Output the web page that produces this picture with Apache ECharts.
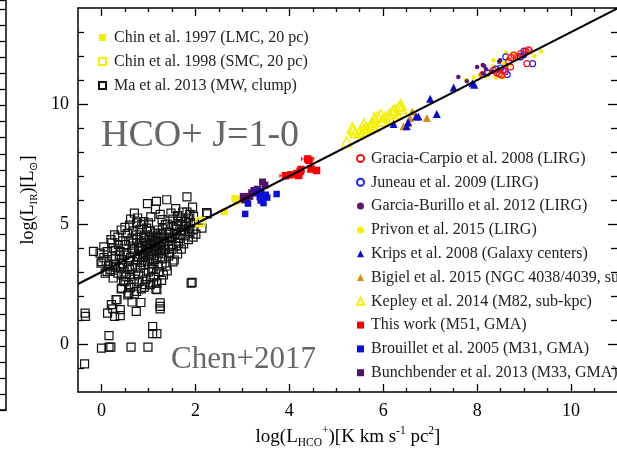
<!DOCTYPE html>
<html><head><meta charset="utf-8">
<script src="https://cdn.jsdelivr.net/npm/echarts@6/dist/echarts.min.js"></script>
<style>html,body{margin:0;padding:0;background:#fff}#c{width:617px;height:450px}</style>
</head><body><div id="c"></div>
<script>
const FONT = '"Liberation Serif", "Times New Roman", serif';
// tick values
const xMajor = [0, 2, 4, 6, 8, 10];
const xMinor = [0.5, 1, 1.5, 2.5, 3, 3.5, 4.5, 5, 5.5, 6.5, 7, 7.5, 8.5, 9, 9.5, 10.5];
const yMajor = [0, 5, 10];
const yMinor = [-1, 1, 2, 3, 4, 6, 7, 8, 9, 11, 12, 13];

// fit line end points
const fitLine = [[-0.5, 2.5], [11, 14]];

// data series [log L_HCO+, log L_IR]
const chin97 = [[2.62, 5.51], [2.84, 6.07], [2.88, 5.95], [2.91, 6.01]];
const chin98 = [[2.12, 5.11], [2.09, 5.05]];
const ma13 = [
 [1.82,6.13],[1.39,6.01],[1.17,5.94],[0.98,5.85],[1.15,5.62],[1.58,5.64],[1.94,5.70],[1.82,5.50],[1.73,5.50],[2.25,5.42],
 [2.24,5.47],[0.77,5.25],[0.50,4.86],[2.14,4.83],[2.01,4.58],[1.29,5.18],[1.64,5.11],[1.85,5.25],[1.96,5.32],[0.86,4.97],
 [0.96,4.83],[1.36,4.97],[1.50,4.90],[1.71,4.97],[1.85,4.83],[1.78,4.55],[1.57,4.55],[1.15,4.62],[0.65,4.41],[0.75,4.55],
 [1.64,4.20],[1.75,4.17],[1.43,4.07],[-0.17,3.86],[-0.03,3.79],[-0.01,3.37],[0.01,3.43],[0.22,4.21],[0.25,4.00],[0.22,3.66],
 [0.25,3.30],[0.08,2.95],[0.12,3.02],[0.18,3.02],[0.40,3.16],[0.43,2.88],[0.47,2.61],[0.58,2.47],[0.43,2.33],[0.58,2.12],
 [0.75,2.19],[0.93,2.47],[1.18,2.54],[1.18,2.26],[1.04,2.75],[1.32,2.88],[1.52,3.42],[1.93,2.57],[1.43,3.66],[1.29,3.30],
 [1.22,3.02],[1.07,3.16],[0.79,2.88],[0.65,3.16],[0.58,3.44],[0.43,3.52],[0.65,3.79],[0.79,4.00],[0.93,4.21],[1.07,4.34],
 [1.22,4.41],[1.32,4.27],[1.15,4.07],[1.00,3.86],[0.90,3.66],[0.76,3.52],[1.22,3.79],[1.11,3.52],[0.93,3.30],[0.83,3.16],
 [1.36,3.93],[1.29,4.55],[1.50,4.41],[1.04,4.69],[0.90,4.41],[0.50,4.14],[0.40,3.86],[0.36,4.14],[0.54,3.79],[0.85,3.90],
 [0.95,4.10],[1.00,3.70],[1.05,4.00],[1.10,3.85],[1.12,4.20],[1.20,4.10],[1.25,3.90],[0.88,3.60],[0.98,3.45],[1.08,3.35],
 [1.18,3.60],[0.92,4.30],[1.02,4.45],[1.15,4.30],[0.80,3.75],[0.70,3.95],[0.72,3.30],[0.62,3.60],[0.68,4.20],[1.28,4.20],
 [1.35,4.15],[1.40,4.30],[1.45,4.45],[1.55,4.60],[1.60,4.80],[1.65,4.40],[1.70,4.70],[1.80,4.90],[1.90,5.05],[1.95,4.75],
 [1.20,4.75],[1.30,4.80],[1.40,5.00],[1.00,5.05],[0.90,5.10],[1.10,3.10],[1.00,3.00],[0.90,2.95],[0.95,2.70],[1.05,2.55],
 [0.80,2.60],[0.70,2.70],[0.60,2.90],[0.55,3.20],[0.30,3.55],[0.15,3.25],[0.10,3.45],[0.30,3.90],[0.45,4.30],[0.55,4.60],
 [0.35,4.45],[0.20,4.35],[0.60,4.95],[0.75,5.05],[1.25,4.60],[1.35,4.40],[1.50,4.15],[1.60,4.10],[1.45,3.80],[1.55,3.50],
 [1.30,3.55],[1.38,3.25],[1.20,3.25],[1.50,3.95],[0.85,4.45],[0.75,4.35],[0.65,4.00],[0.50,3.70],[0.45,3.35],[0.60,3.10],
 [0.70,2.50],[0.85,2.30],[0.62,2.35],[0.97,3.95],[1.03,4.15],[1.13,3.95],[0.87,4.05],[0.93,3.80],[1.17,3.90],[1.07,3.70],
 [0.82,4.20],[1.27,4.00],[1.33,3.75],[0.77,3.62],[1.03,3.55],[0.95,4.55],[1.10,4.50],[1.18,4.45],[1.68,4.55],[1.75,4.75],
 [1.88,4.62],[1.45,4.65],[1.60,4.95],[1.52,5.20],[1.70,5.25],[1.78,5.10],[1.88,5.40],[1.98,5.05],[-0.35,1.29],[-0.34,1.15],
 [-0.36,-0.83],[0.00,-0.17],[0.16,-0.13],[0.20,-0.13],[0.16,0.35],[0.63,-0.13],[0.99,-0.13],[1.09,0.73],[1.09,0.43],[1.18,0.43],
 [1.25,1.71],[1.25,1.57],[1.25,1.46],[1.91,2.54],[0.13,1.29],[0.24,1.46],[0.28,1.15],[0.40,1.18],[0.40,1.43],[0.21,1.64],
 [0.31,1.85],[0.74,1.36],[0.65,1.75],[0.84,1.73],[0.42,2.30],[0.56,2.05],[0.70,2.08],[0.91,2.36],[1.16,2.29],[1.17,2.54],
 [1.04,2.47],[0.33,1.85],[0.50,2.60],[0.35,2.95],[0.25,2.75],[0.30,3.20],[0.05,3.60],[0.38,3.70],
 [0.05,4.05],[0.12,3.85],[0.28,4.55],[0.42,4.75],[0.58,4.30],[0.68,4.70],[0.82,4.78],[0.70,5.45],[0.62,5.20],[1.05,5.30],
 [1.25,5.40],[1.48,5.45],[1.62,5.35],[1.12,2.80],[1.28,2.65],[1.40,3.05],[1.62,3.75],[1.70,3.95],[1.85,4.35],[1.95,4.45],
 [0.52,2.80],[0.85,3.40],[0.48,3.00],[0.20,3.10]
];
const graciaCarpio = [[8.12,11.23],[8.35,11.40],[8.52,11.20],[8.58,11.44],[8.71,11.54],[8.72,11.93],[8.78,12.04],[8.93,12.10],
 [9.04,12.18],[9.11,12.23],[9.06,11.68],[8.42,11.30],[8.47,11.26],[8.67,11.78],[8.86,11.98],[8.55,11.40],[9.09,12.26]];
const juneau = [[8.61,11.96],[8.92,11.96],[9.00,12.20],[9.18,11.68],[8.64,11.23],[8.22,11.30],[8.60,11.35],[8.99,12.05],[8.50,11.50],[8.40,11.45]];
const garciaBurillo = [[7.60,11.12],[7.78,10.95],[8.00,11.54],[8.15,11.58],[8.19,11.45],[8.47,11.76],[8.45,11.40],[8.12,11.27],[8.12,11.62],[8.49,11.82],[8.30,11.35]];
const privon = [[7.77,11.00],[7.93,11.10],[8.35,11.82],[8.61,12.15],[8.57,11.70],[9.36,12.19],[9.22,12.00],[8.40,11.10],[8.55,11.10],[8.70,11.62],
 [8.27,11.30],[8.35,11.55],[8.80,11.88],[8.90,11.95],[8.75,12.10],[8.05,11.20],[8.20,11.15],[8.95,12.05],[8.65,11.90],[8.48,11.50]];
const krips = [[6.22,9.17],[6.53,9.25],[6.70,9.48],[6.75,9.48],[7.14,9.58],[7.00,10.22],[7.50,10.69],[7.94,10.80],[7.90,10.86],[6.50,9.07]];
const bigiel = [[6.62,9.69],[6.57,9.42],[6.43,9.07],[6.53,9.20],[6.93,9.42]];
const kepley = [[5.22,8.42],[5.37,8.93],[5.40,8.80],[5.58,8.93],[5.67,9.00],[5.72,9.08],[5.76,9.12],[5.80,9.05],[5.81,9.42],[5.88,9.48],
 [5.96,9.28],[6.05,9.46],[6.13,9.58],[6.20,9.69],[6.25,9.75],[6.34,9.90],[6.38,9.97],[6.39,9.80],[6.29,9.60],[6.00,9.30],
 [6.15,9.40],[5.59,9.17],[5.77,9.24],[5.34,9.00],[5.95,9.55],[5.50,8.85],[5.62,8.95]];
const thisWork = [[4.39,7.71],[4.42,7.65],[3.92,7.01],[4.03,7.05],[4.16,7.10],[4.23,7.19],[4.25,7.27],[4.46,7.29],[4.58,7.23],[4.20,7.02]];
const thisWorkErr = [0.13, 0.03, 0.12, 0.04, 0.04, 0.03, 0.03, 0.03, 0.03, 0.04];
const brouillet = [[3.40,6.36],[3.35,6.30],[3.50,6.22],[3.39,5.98],[3.45,5.87],[3.73,6.25],[3.12,5.85],[3.06,5.42],[3.53,6.10],[3.31,6.28],[3.44,6.15],[3.37,6.12]];
const bunchbender = [[3.02,6.15],[3.09,6.05],[3.16,6.15],[3.25,6.40],[3.32,6.45],[3.43,6.75],[3.48,6.62],[3.20,6.30],[3.05,6.00]];

const names = {
  chin97: 'Chin et al. 1997 (LMC, 20 pc)',
  chin98: 'Chin et al. 1998 (SMC, 20 pc)',
  ma13: 'Ma et al. 2013 (MW, clump)',
  gc: 'Gracia-Carpio et al. 2008 (LIRG)',
  ju: 'Juneau et al. 2009 (LIRG)',
  gb: 'Garcia-Burillo et al. 2012 (LIRG)',
  pr: 'Privon et al. 2015 (LIRG)',
  kr: 'Krips et al. 2008 (Galaxy centers)',
  bi: 'Bigiel et al. 2015 (NGC 4038/4039, sub-kpc)',
  ke: 'Kepley et al. 2014 (M82, sub-kpc)',
  tw: 'This work (M51, GMA)',
  br: 'Brouillet et al. 2005 (M31, GMA)',
  bu: 'Bunchbender et al. 2013 (M33, GMA)'
};

function filled(name, data, symbol, size, color) {
  return {name, type: 'scatter', data, symbol, symbolSize: size, xAxisIndex: 0, yAxisIndex: 0,
    itemStyle: {color, opacity: 1}, z: 3};
}
function open(name, data, symbol, size, color, bw) {
  return {name, type: 'scatter', data, symbol, symbolSize: size, xAxisIndex: 0, yAxisIndex: 0,
    itemStyle: {color: 'rgba(255,255,255,0)', borderColor: color, borderWidth: bw, opacity: 1}, z: 3};
}

const baseAxis = {type: 'value', splitLine: {show: false}};
const tickStyle = {color: '#000', width: 1.3};

const option = {
  animation: false,
  backgroundColor: '#fff',
  grid: [
    {left: 78, right: -1, top: 8, bottom: 58, containLabel: false, outerBoundsMode: 'none'},
    {left: -100, width: 106, top: 0, height: 410, containLabel: false, outerBoundsMode: 'none'}
  ],
  xAxis: [
    Object.assign({}, baseAxis, {gridIndex: 0, min: -0.5, max: 11, position: 'bottom',
      axisLine: {show: true, onZero: false, lineStyle: {color: '#000', width: 1.5}},
      axisTick: {show: true, inside: true, length: 8, customValues: xMajor, lineStyle: tickStyle},
      axisLabel: {show: true, customValues: xMajor, fontFamily: FONT, fontSize: 18, color: '#000', margin: 10},
      name: '{n|log(L}{sub|HCO}{sup|+}{n|)[K km s}{sup|-1}{n| pc}{sup|2}{n|]}',
      nameLocation: 'middle', nameGap: 32,
      nameTextStyle: {fontFamily: FONT, fontSize: 19, color: '#000', rich: {
        n: {fontFamily: FONT, fontSize: 19, color: '#000', lineHeight: 24},
        sub: {fontFamily: FONT, fontSize: 11.5, color: '#000', lineHeight: 12, verticalAlign: 'bottom'},
        sup: {fontFamily: FONT, fontSize: 11.5, color: '#000', lineHeight: 12, verticalAlign: 'top'}
      }}}),
    Object.assign({}, baseAxis, {gridIndex: 0, min: -0.5, max: 11, position: 'bottom',
      axisLine: {show: false, onZero: false},
      axisTick: {show: true, inside: true, length: 4, customValues: xMinor, lineStyle: tickStyle},
      axisLabel: {show: false}}),
    Object.assign({}, baseAxis, {gridIndex: 0, min: -0.5, max: 11, position: 'top',
      axisLine: {show: true, onZero: false, lineStyle: {color: '#000', width: 1.5}},
      axisTick: {show: true, inside: true, length: 8, customValues: xMajor, lineStyle: tickStyle},
      axisLabel: {show: false}}),
    Object.assign({}, baseAxis, {gridIndex: 0, min: -0.5, max: 11, position: 'top',
      axisLine: {show: false, onZero: false},
      axisTick: {show: true, inside: true, length: 4, customValues: xMinor, lineStyle: tickStyle},
      axisLabel: {show: false}}),
    Object.assign({}, baseAxis, {gridIndex: 1, min: 0, max: 1, position: 'bottom',
      axisLine: {show: true, onZero: false, lineStyle: {color: '#000', width: 1.5}},
      axisTick: {show: false}, axisLabel: {show: false}})
  ],
  yAxis: [
    Object.assign({}, baseAxis, {gridIndex: 0, min: -2, max: 14, position: 'left',
      axisLine: {show: true, onZero: false, lineStyle: {color: '#000', width: 1.5}},
      axisTick: {show: true, inside: true, length: 10, customValues: yMajor, lineStyle: tickStyle},
      axisLabel: {show: true, customValues: yMajor, fontFamily: FONT, fontSize: 18, color: '#000', margin: 9},
      name: '{n|log(L}{sub|IR}{n|)[L}{sub|⊙}{n|]}',
      nameLocation: 'middle', nameGap: 28, nameRotate: 90,
      nameTextStyle: {fontFamily: FONT, fontSize: 18, color: '#000', rich: {
        n: {fontFamily: FONT, fontSize: 18, color: '#000', lineHeight: 24},
        sub: {fontFamily: FONT, fontSize: 11, color: '#000', lineHeight: 12, verticalAlign: 'bottom'}
      }}}),
    Object.assign({}, baseAxis, {gridIndex: 0, min: -2, max: 14, position: 'left',
      axisLine: {show: false, onZero: false},
      axisTick: {show: true, inside: true, length: 6, customValues: yMinor, lineStyle: tickStyle},
      axisLabel: {show: false}}),
    Object.assign({}, baseAxis, {gridIndex: 0, min: -2, max: 14, position: 'right',
      axisLine: {show: true, onZero: false, lineStyle: {color: '#000', width: 1.5}},
      axisTick: {show: true, inside: true, length: 10, customValues: yMajor, lineStyle: tickStyle},
      axisLabel: {show: false}}),
    Object.assign({}, baseAxis, {gridIndex: 0, min: -2, max: 14, position: 'right',
      axisLine: {show: false, onZero: false},
      axisTick: {show: true, inside: true, length: 7, customValues: yMinor, lineStyle: tickStyle},
      axisLabel: {show: false}}),
    Object.assign({}, baseAxis, {gridIndex: 1, min: 0, max: 25.6, interval: 1, position: 'right',
      axisLine: {show: true, onZero: false, lineStyle: {color: '#000', width: 1.5}},
      axisTick: {show: true, inside: true, length: 6, lineStyle: tickStyle},
      axisLabel: {show: false}})
  ],
  legend: [
    {data: [names.chin97, names.chin98, names.ma13], orient: 'vertical', left: 93, top: 24,
     itemWidth: 7, itemHeight: 7, itemGap: 7, selectedMode: false,
     textStyle: {fontFamily: FONT, fontSize: 16, color: '#222', lineHeight: 17, padding: [0, 0, 0, 3]}},
    {data: [names.gc, names.ju, names.gb, names.pr, names.kr, names.bi, names.ke, names.tw, names.br, names.bu],
     orient: 'vertical', left: 351, top: 145,
     itemWidth: 7, itemHeight: 7, itemGap: 6.8, selectedMode: false,
     textStyle: {fontFamily: FONT, fontSize: 16, color: '#222', lineHeight: 17, padding: [0, 0, 0, 2]}}
  ],
  graphic: [
    {type: 'text', x: 101, y: 136, silent: true,
     style: {text: 'HCO+ J=1-0', font: '38px "Liberation Serif"', fill: '#666', verticalAlign: 'middle'}},
    {type: 'text', x: 171, y: 360, silent: true,
     style: {text: 'Chen+2017', font: '31px "Liberation Serif"', fill: '#666', verticalAlign: 'middle'}}
  ],
  series: [
    open(names.ma13, ma13, 'rect', 8, '#111', 1.2),
    open(names.chin98, chin98, 'rect', 8, '#f5f000', 1.4),
    filled(names.chin97, chin97, 'rect', 7, '#f5f000'),
    filled(names.bu, bunchbender, 'rect', 7, '#52116f'),
    filled(names.br, brouillet, 'rect', 6.5, '#0a10d8'),
    {name: '_err', type: 'custom', xAxisIndex: 0, yAxisIndex: 0, z: 3,
     data: thisWork.map((p, i) => [p[0], p[1], thisWorkErr[i]]),
     renderItem: function (params, api) {
       const x = api.value(0), y = api.value(1), e = api.value(2);
       const a = api.coord([x - e, y]), b = api.coord([x + e, y]);
       return {type: 'group', children: [
         {type: 'line', shape: {x1: a[0], y1: a[1], x2: b[0], y2: b[1]}, style: {stroke: '#f00', lineWidth: 1}},
         {type: 'line', shape: {x1: a[0], y1: a[1] - 2, x2: a[0], y2: a[1] + 2}, style: {stroke: '#f00', lineWidth: 1}},
         {type: 'line', shape: {x1: b[0], y1: b[1] - 2, x2: b[0], y2: b[1] + 2}, style: {stroke: '#f00', lineWidth: 1}}
       ]};
     }},
    filled(names.tw, thisWork, 'rect', 7.5, '#ff0000'),
    open(names.ke, kepley, 'triangle', 10, '#f5f000', 1.5),
    filled(names.bi, bigiel, 'triangle', 8, '#d98e0c'),
    filled(names.kr, krips, 'triangle', 8, '#0a0ccc'),
    filled(names.pr, privon, 'circle', 4.5, '#f5f000'),
    filled(names.gb, garciaBurillo, 'circle', 4.5, '#5a1670'),
    open(names.ju, juneau, 'circle', 6, '#2020ff', 1.2),
    open(names.gc, graciaCarpio, 'circle', 6, '#ff1010', 1.2),
    {name: '_fit', type: 'line', data: fitLine, xAxisIndex: 0, yAxisIndex: 0, symbol: 'none', z: 5,
     lineStyle: {color: '#000', width: 2}, silent: true}
  ]
};
const chart = echarts.init(document.getElementById('c'), null, {renderer: 'canvas'});
chart.setOption(option);
</script>
</body></html>
